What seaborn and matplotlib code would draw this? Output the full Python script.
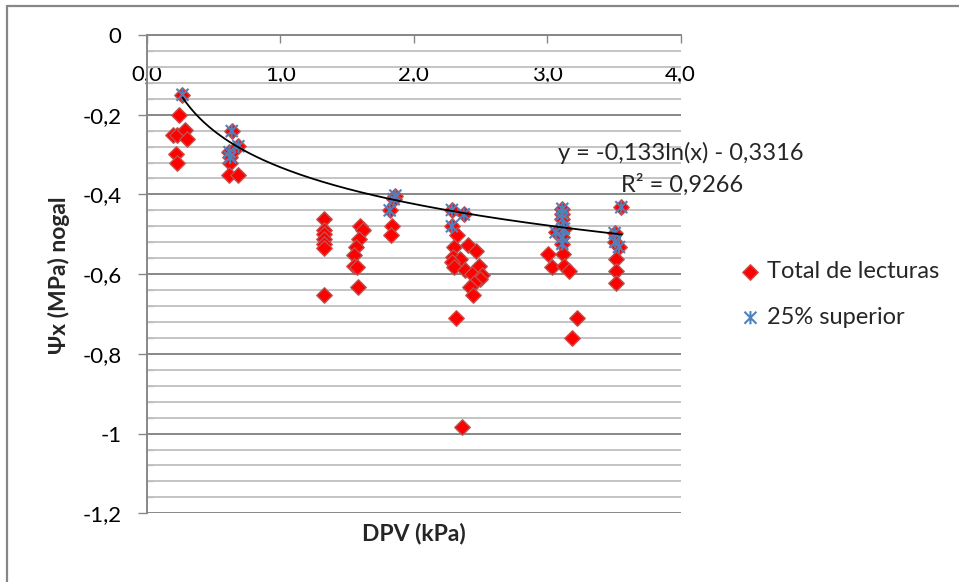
import numpy as np
import pandas as pd
import matplotlib
matplotlib.use("Agg")
import matplotlib.pyplot as plt
import seaborn as sns
from matplotlib.path import Path
from matplotlib.lines import Line2D
from matplotlib.ticker import MultipleLocator, FixedLocator, FixedFormatter

# ---------------- data ----------------
total_dpv = [0.268, 0.245, 0.200, 0.225, 0.287, 0.300, 0.220, 0.230,
             0.637, 0.687, 0.620, 0.625, 0.625, 0.620, 0.687, 0.665,
             1.325, 1.325, 1.325, 1.325, 1.325, 1.325, 1.325,
             1.600, 1.620, 1.587, 1.570, 1.555, 1.550, 1.575, 1.580,
             1.863, 1.850, 1.820, 1.835, 1.830,
             2.286, 2.375, 2.286, 2.325, 2.305, 2.405, 2.463, 2.293, 2.345, 2.286,
             2.300, 2.488, 2.388, 2.438, 2.513, 2.500, 2.450, 2.420, 2.443, 2.320, 2.363,
             3.113, 3.113, 3.113, 3.125, 3.063, 3.113, 3.113, 3.005, 3.038, 3.120,
             3.125, 3.163, 3.225, 3.188,
             3.555, 3.505, 3.510, 3.538, 3.513, 3.513, 3.513]
total_psi = [-0.150, -0.201, -0.252, -0.250, -0.239, -0.262, -0.298, -0.321,
             -0.241, -0.279, -0.294, -0.307, -0.321, -0.350, -0.350, -0.285,
             -0.461, -0.490, -0.499, -0.511, -0.524, -0.534, -0.652,
             -0.478, -0.490, -0.512, -0.532, -0.551, -0.579, -0.583, -0.633,
             -0.403, -0.412, -0.440, -0.480, -0.503,
             -0.439, -0.450, -0.480, -0.503, -0.531, -0.528, -0.541, -0.558, -0.562, -0.570,
             -0.583, -0.579, -0.590, -0.600, -0.601, -0.612, -0.623, -0.631, -0.652, -0.711, -0.984,
             -0.436, -0.449, -0.461, -0.486, -0.495, -0.508, -0.524, -0.549, -0.583, -0.549,
             -0.579, -0.593, -0.711, -0.761,
             -0.432, -0.497, -0.519, -0.532, -0.562, -0.591, -0.623]

top_dpv = [0.268, 0.637, 0.687, 0.620, 0.625,
           1.863, 1.850, 1.820,
           2.286, 2.375, 2.286,
           3.113, 3.113, 3.113, 3.125, 3.063, 3.113, 3.113,
           3.555, 3.505, 3.510, 3.538]
top_psi = [-0.150, -0.241, -0.279, -0.294, -0.307,
           -0.403, -0.412, -0.440,
           -0.439, -0.450, -0.480,
           -0.436, -0.449, -0.461, -0.486, -0.495, -0.508, -0.524,
           -0.432, -0.497, -0.519, -0.532]

trend_a = -0.133
trend_b = -0.3316
trend_range = [0.268, 3.56]

x_ticks = [0, 1, 2, 3, 4]
x_tick_labels = ["0,0", "1,0", "2,0", "3,0", "4,0"]
y_ticks = [0, -0.2, -0.4, -0.6, -0.8, -1.0, -1.2]
y_tick_labels = ["0", "-0,2", "-0,4", "-0,6", "-0,8", "-1", "-1,2"]

series_labels = ["Total de lecturas", "25% superior"]
eq_text = "y = -0,133ln(x) - 0,3316"
r2_text = "R² = 0,9266"
x_title = "DPV (kPa)"
y_title = "Ψx (MPa) nogal"

# ---------------- style ----------------
sns.set_theme(style="white")
plt.rcParams["font.family"] = ["Lato", "DejaVu Sans"]

W, H = 959, 582
fig = plt.figure(figsize=(W / 100, H / 100), dpi=100)
ax = fig.add_axes([146.7 / W, 1 - 513.3 / H, (680.7 - 146.7) / W, (513.3 - 35) / H])

GRID_MAJ = "#878787"
GRID_MIN = "#BFBFBF"

df_total = pd.DataFrame({"DPV": total_dpv, "Psi": total_psi})
df_top = pd.DataFrame({"DPV": top_dpv, "Psi": top_psi})

sns.scatterplot(data=df_total, x="DPV", y="Psi", ax=ax, marker="D", s=62,
                color="#FF0000", edgecolor="#C0504D", linewidth=1.0,
                label=series_labels[0], zorder=3)

star_path = Path([(-1, -1), (1, 1), (-1, 1), (1, -1), (0, -1.1), (0, 1.1)],
                 [Path.MOVETO, Path.LINETO, Path.MOVETO, Path.LINETO,
                  Path.MOVETO, Path.LINETO])
sns.scatterplot(data=df_top, x="DPV", y="Psi", ax=ax, marker=star_path, s=90,
                color="#4F81BD", edgecolor="#4F81BD", facecolor="none",
                linewidth=1.5, label=series_labels[1], zorder=4)

xs = np.linspace(trend_range[0], trend_range[1], 300)
ys = trend_a * np.log(xs) + trend_b
sns.lineplot(x=xs, y=ys, ax=ax, color="black", linewidth=1.3, sort=False,
             estimator=None, legend=False, zorder=5)

ax.set_xlim(0, 4)
ax.set_ylim(-1.2, 0)

# x axis at top (y = 0), labels drawn just below it
ax.xaxis.set_major_locator(FixedLocator(x_ticks))
ax.xaxis.set_major_formatter(FixedFormatter(x_tick_labels))
ax.tick_params(axis="x", which="major", top=True, bottom=False,
               labeltop=True, labelbottom=False, direction="in",
               length=6, width=1, color=GRID_MAJ, pad=-35.5,
               labelsize=16, labelcolor="black")

ax.yaxis.set_major_locator(FixedLocator(y_ticks))
ax.yaxis.set_major_formatter(FixedFormatter(y_tick_labels))
ax.yaxis.set_minor_locator(MultipleLocator(0.04))
ax.tick_params(axis="y", which="major", left=True, direction="out",
               length=6.5, width=1, color=GRID_MAJ, pad=11.5,
               labelsize=16, labelcolor="black")
ax.tick_params(axis="y", which="minor", left=True, direction="in",
               length=4, width=1, color=GRID_MIN)

ax.yaxis.grid(True, which="minor", color=GRID_MIN, linewidth=1.3, zorder=0)
ax.yaxis.grid(True, which="major", color=GRID_MAJ, linewidth=1.4, zorder=0)
ax.xaxis.grid(False)
ax.set_axisbelow(True)

for side in ["right", "bottom"]:
    ax.spines[side].set_visible(False)
for side in ["top", "left"]:
    ax.spines[side].set_color(GRID_MAJ)
    ax.spines[side].set_linewidth(1.4)

ax.set_xlabel("")
ax.set_ylabel("")

# axis titles
fig.text(413.5 / W, 1 - 533 / H, x_title, ha="center", va="center",
         fontsize=16.5, fontweight="bold")
fig.text(59 / W, 1 - 275 / H, y_title, ha="center", va="center",
         rotation=90, fontsize=16.5, fontweight="bold")

# trendline equation
fig.text(558 / W, 1 - 153 / H, eq_text, ha="left", va="center", fontsize=17)
fig.text(743 / W, 1 - 185 / H, r2_text, ha="right", va="center", fontsize=17)

# legend
handles, labels = ax.get_legend_handles_labels()
leg = fig.legend(handles, labels, loc="center left",
                 bbox_to_anchor=(741 / W, 1 - 294.5 / H),
                 frameon=False, fontsize=17, handlelength=0.8,
                 handletextpad=0.3, labelspacing=1.05, borderaxespad=0,
                 borderpad=0)
if ax.get_legend() is not None:
    ax.get_legend().remove()

# chart border (top and left edges visible)
fig.add_artist(Line2D([6.5 / W, 6.5 / W], [1 - 5.5 / H, 0], transform=fig.transFigure,
                      color=GRID_MAJ, linewidth=1.6))
fig.add_artist(Line2D([6.5 / W, 1], [1 - 5.5 / H, 1 - 5.5 / H], transform=fig.transFigure,
                      color=GRID_MAJ, linewidth=1.6))

fig.savefig("out.png", dpi=100, facecolor="white")
